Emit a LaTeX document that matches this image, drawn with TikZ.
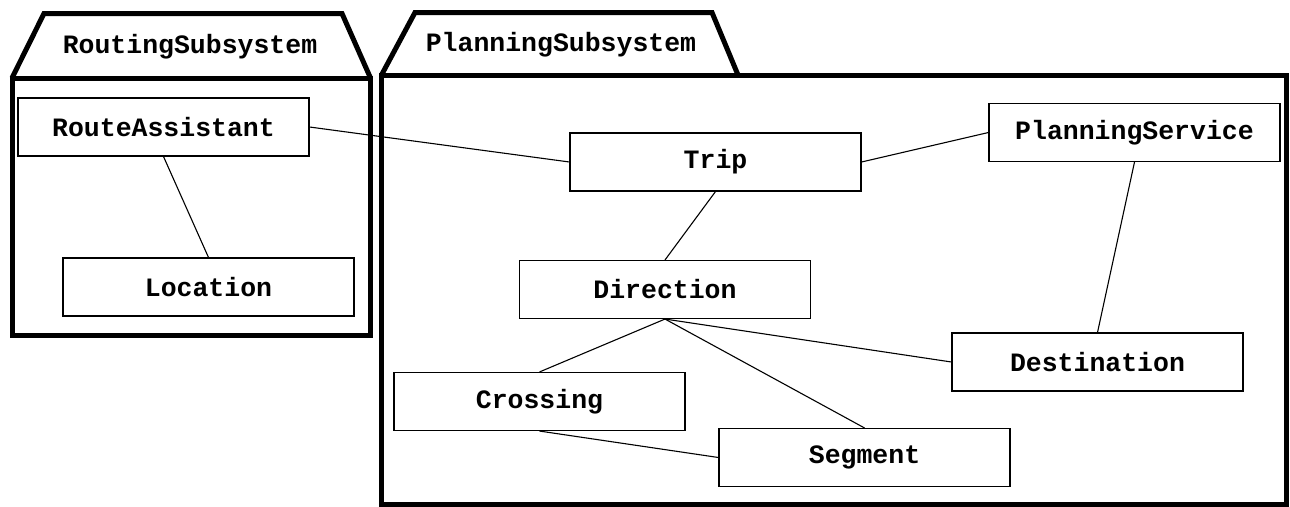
\documentclass[tikz,border=0pt]{standalone}
\usepackage{fontspec}
\newfontfamily\cfont{Liberation Mono}
\begin{document}
\begin{tikzpicture}[x=1pt,y=-1pt,
  classbox/.style={draw, line width=1.1pt, minimum width=291pt, minimum height=58pt,
    inner sep=0pt, font=\cfont\bfseries\fontsize{26.5}{30}\selectfont},
  pkg/.style={line width=5pt, line join=miter},
  pkglabel/.style={inner sep=0pt, font=\cfont\bfseries\fontsize{26.5}{30}\selectfont},
  link/.style={line width=1.1pt}]
\useasboundingbox (0,0) rectangle (1290,506);

% subsystem packages
\draw[pkg] (12,78) -- (44,13.5) -- (342,13.5) -- (370.5,78);
\draw[pkg] (12,78) rectangle (370.5,335);
\node[pkglabel] (routing) at (190,47) {RoutingSubsystem};

\draw[pkg] (381.5,75) -- (415,12.5) -- (712,12.5) -- (738,75);
\draw[pkg] (381.5,75) rectangle (1286,504);
\node[pkglabel] (planning) at (561,45) {PlanningSubsystem};

% classes
\node[classbox] (ra)   at (163.5,127)   {RouteAssistant};
\node[classbox] (loc)  at (208.5,287)   {Location};
\node[classbox] (trip) at (715.5,162)   {Trip};
\node[classbox] (ps)   at (1134.5,132.5){PlanningService};
\node[classbox] (dest) at (1097.5,362)  {Destination};
\node[classbox] (dir)  at (665,289.5)   {Direction};
\node[classbox] (cross)at (539.5,401.5) {Crossing};
\node[classbox] (seg)  at (864.5,457.5) {Segment};

% associations
\draw[link] (ra.south) -- (loc.north);
\draw[link] (ra.east) -- (trip.west);
\draw[link] (trip.east) -- (ps.west);
\draw[link] (trip.south) -- (dir.north);
\draw[link] (ps.south) -- (dest.north);
\draw[link] (dir.south) -- (cross.north);
\draw[link] (dir.south) -- (seg.north);
\draw[link] (dir.south) -- (dest.west);
\draw[link] (cross.south) -- (seg.west);
\end{tikzpicture}
\end{document}
